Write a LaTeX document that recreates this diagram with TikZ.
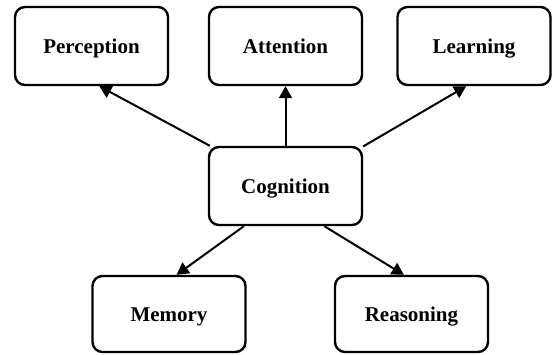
\documentclass[tikz,border=0pt]{standalone}
\usepackage{fontspec}
\setmainfont{Liberation Serif}
\usetikzlibrary{arrows.meta}

\begin{document}
\begin{tikzpicture}[
    x=1pt, y=-1pt,
    >={Triangle[length=12pt, width=13pt]},
    every node/.style={font=\bfseries\fontsize{21}{25}\selectfont},
    % --- node styles ---
    conceptbox/.style={
        draw, rounded corners=10pt, line width=2.4pt,
        minimum width=153pt, minimum height=78pt,
        inner sep=0pt, align=center,
        text height=15pt, text depth=0pt,
    },
    % --- connector style ---
    arr/.style={->, line width=2pt, color=black},
]
\useasboundingbox (0,0) rectangle (552,354);

% ===== TOP ROW ==============================================================

% -- Perception --
\node[conceptbox] (perc) at (91.5, 46) {Perception};

% -- Attention --
\node[conceptbox] (att) at (285.5, 46) {Attention};

% -- Learning --
\node[conceptbox] (learn) at (474, 46) {Learning};

% ===== CENTRE ===============================================================

% -- Cognition --
\node[conceptbox] (cog) at (285.5, 186) {Cognition};

% ===== BOTTOM ROW ===========================================================

% -- Memory --
\node[conceptbox, minimum height=76pt] (mem) at (169, 314) {Memory};

% -- Reasoning --
\node[conceptbox, minimum height=76pt] (reas) at (411.5, 314) {Reasoning};

% -- Arrows --
\draw[arr] (cog.152)   -- (perc.-79);
\draw[arr] (cog.north) -- (att.south);
\draw[arr] (cog.27)    -- (learn.-101);
\draw[arr] (cog.224)   -- (mem.79);
\draw[arr] (cog.314)   -- (reas.101);

\end{tikzpicture}
\end{document}
